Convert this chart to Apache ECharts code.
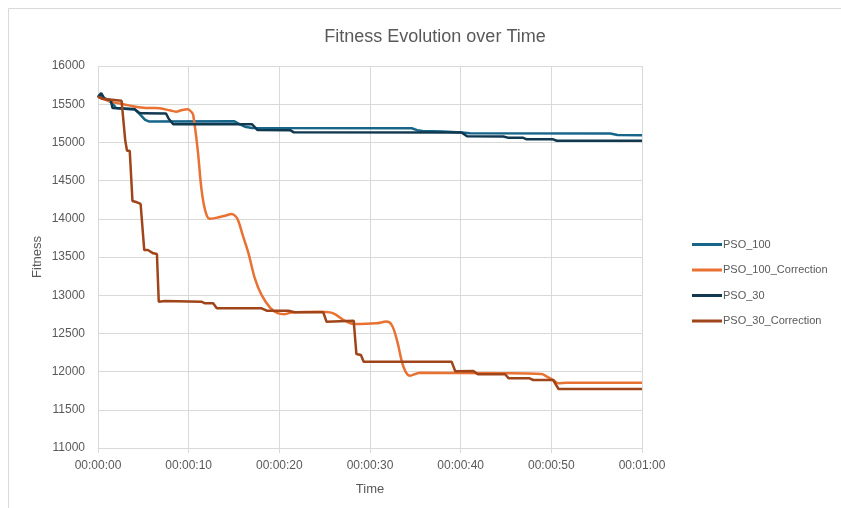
<!DOCTYPE html>
<html>
<head>
<meta charset="utf-8">
<script src="https://cdn.jsdelivr.net/npm/echarts@6/dist/echarts.min.js"></script>
<style>
  html, body { margin: 0; padding: 0; background: #ffffff; }
  #chart { width: 841px; height: 508px; }
</style>
</head>
<body>
<div id="chart"></div>
<script>
// Fitness of each run over elapsed time: [seconds, fitness]
const pso100 = [
  [0, 15620], [0.4, 15590], [1.0, 15560], [1.5, 15520], [2.0, 15450], [3.5, 15435],
  [4.1, 15430], [4.6, 15370], [5.2, 15295], [5.6, 15275], [15.0, 15278], [15.6, 15240],
  [16.2, 15205], [17.0, 15188], [34.6, 15185], [35.2, 15160], [35.8, 15150], [38.0, 15142],
  [40.1, 15130], [41.0, 15120], [56.5, 15117], [57.3, 15098], [60, 15095]
];
const pso100Correction = [
  [0, 15600], [0.5, 15570], [1.5, 15530], [2.8, 15500], [4.0, 15470], [5.0, 15455],
  [6.0, 15450], [6.8, 15446], [7.9, 15420], [8.6, 15402], [9.3, 15425], [9.9, 15433],
  [10.3, 15400], [10.5, 15358], [11.0, 14900], [11.4, 14400], [11.8, 14120], [12.3, 14000],
  [13.0, 14012], [14.0, 14040], [14.75, 14063], [15.2, 14030], [15.5, 13965], [15.9, 13810],
  [16.6, 13548], [17.3, 13220], [18.05, 13000], [19.0, 12835], [19.8, 12765], [20.6, 12752],
  [21.3, 12772], [24.5, 12782], [25.6, 12775], [26.3, 12740], [27.1, 12675], [28.2, 12623],
  [30.7, 12632], [31.8, 12655], [32.4, 12610], [33.0, 12400], [33.7, 12060], [34.4, 11946],
  [35.5, 11985], [44.3, 11978], [48.9, 11968], [49.5, 11935], [50.2, 11890], [50.8, 11847],
  [51.7, 11855], [60, 11855]
];
const pso30 = [
  [0, 15590], [0.35, 15645], [0.7, 15575], [1.0, 15565], [1.4, 15555], [1.6, 15450],
  [4.0, 15437], [4.5, 15390], [4.9, 15380], [7.5, 15378], [7.8, 15310], [8.3, 15237],
  [17.0, 15237], [17.6, 15162], [21.2, 15160], [21.6, 15132], [40.1, 15130], [40.7, 15080],
  [44.7, 15078], [45.2, 15062], [46.9, 15060], [47.3, 15040], [50.2, 15040], [50.6, 15022],
  [60, 15020]
];
const pso30Correction = [
  [0, 15600], [0.5, 15570], [1.3, 15560], [2.6, 15545], [2.8, 15533], [3.0, 15030],
  [3.2, 14891], [3.5, 14891], [3.8, 14233], [4.3, 14216], [4.7, 14194], [5.1, 13591],
  [5.5, 13591], [6.1, 13548], [6.5, 13539], [6.7, 12915], [7.4, 12924], [11.4, 12915],
  [11.8, 12894], [12.7, 12894], [13.1, 12828], [18.05, 12828], [18.6, 12797], [21.0, 12797],
  [21.7, 12776], [24.85, 12776], [25.2, 12653], [28.2, 12666], [28.5, 12230], [29.0, 12217],
  [29.3, 12130], [39.0, 12130], [39.4, 12005], [41.4, 12008], [41.9, 11965], [44.9, 11965],
  [45.3, 11912], [47.6, 11912], [48.0, 11890], [50.2, 11890], [50.4, 11868], [50.8, 11772],
  [60, 11772]
];

const seriesNames = ['PSO_100', 'PSO_100_Correction', 'PSO_30', 'PSO_30_Correction'];
const seriesColors = ['#17668A', '#E97132', '#10384F', '#A0441A'];

const gray = '#595959';
const font = '"Liberation Sans", Arial, sans-serif';

function hms(sec) {
  const s = Math.round(sec);
  const pad = (n) => String(n).padStart(2, '0');
  return pad(Math.floor(s / 3600)) + ':' + pad(Math.floor(s / 60) % 60) + ':' + pad(s % 60);
}

function lineSeries(i, data, smooth) {
  return {
    name: seriesNames[i],
    type: 'line',
    data: data,
    symbol: 'none',
    smooth: smooth,
    animation: false,
    lineStyle: { color: seriesColors[i], width: 2.5 },
    itemStyle: { color: seriesColors[i] }
  };
}

const chart = echarts.init(document.getElementById('chart'), null, { renderer: 'canvas' });
chart.setOption({
  backgroundColor: '#ffffff',
  animation: false,
  textStyle: { fontFamily: font },
  title: {
    text: 'Fitness Evolution over Time',
    left: 430, top: 23, textAlign: 'center',
    textStyle: { color: gray, fontSize: 18, fontWeight: 'normal', fontFamily: font }
  },
  graphic: [{
    type: 'rect', silent: true,
    shape: { x: 8.5, y: 8.5, width: 850, height: 520 },
    style: { fill: 'none', stroke: '#d9d9d9', lineWidth: 1 }
  }],
  legend: {
    orient: 'vertical', left: 687, top: 233,
    icon: 'rect',
    itemWidth: 30, itemHeight: 3, itemGap: 12.5,
    textStyle: { color: gray, fontSize: 11, lineHeight: 13, fontFamily: font, padding: [0, 0, 0, -4] },
    data: seriesNames
  },
  grid: { left: 98, right: 199, top: 66, bottom: 60, containLabel: false },
  xAxis: {
    type: 'value', min: 0, max: 60, interval: 10,
    name: 'Time', nameLocation: 'middle', nameGap: 35,
    nameTextStyle: { color: gray, fontSize: 13, fontFamily: font },
    axisLine: { show: true, lineStyle: { color: '#d9d9d9' } },
    axisTick: { show: true, length: 5, lineStyle: { color: '#d9d9d9' } },
    axisLabel: { color: gray, fontSize: 12, margin: 12, formatter: hms },
    splitLine: { show: true, lineStyle: { color: '#d9d9d9' } }
  },
  yAxis: {
    type: 'value', min: 11000, max: 16000, interval: 500,
    name: 'Fitness', nameLocation: 'middle', nameGap: 54, nameRotate: 90,
    nameMoveOverlap: false,
    nameTextStyle: { color: gray, fontSize: 13, fontFamily: font },
    axisLine: { show: false },
    axisTick: { show: false },
    axisLabel: { color: gray, fontSize: 12, margin: 13, formatter: (v) => String(v) },
    splitLine: { show: true, lineStyle: { color: '#d9d9d9' } }
  },
  series: [
    lineSeries(0, pso100, false),
    lineSeries(1, pso100Correction, 0.35),
    lineSeries(2, pso30, false),
    lineSeries(3, pso30Correction, false)
  ]
});
</script>
</body>
</html>
